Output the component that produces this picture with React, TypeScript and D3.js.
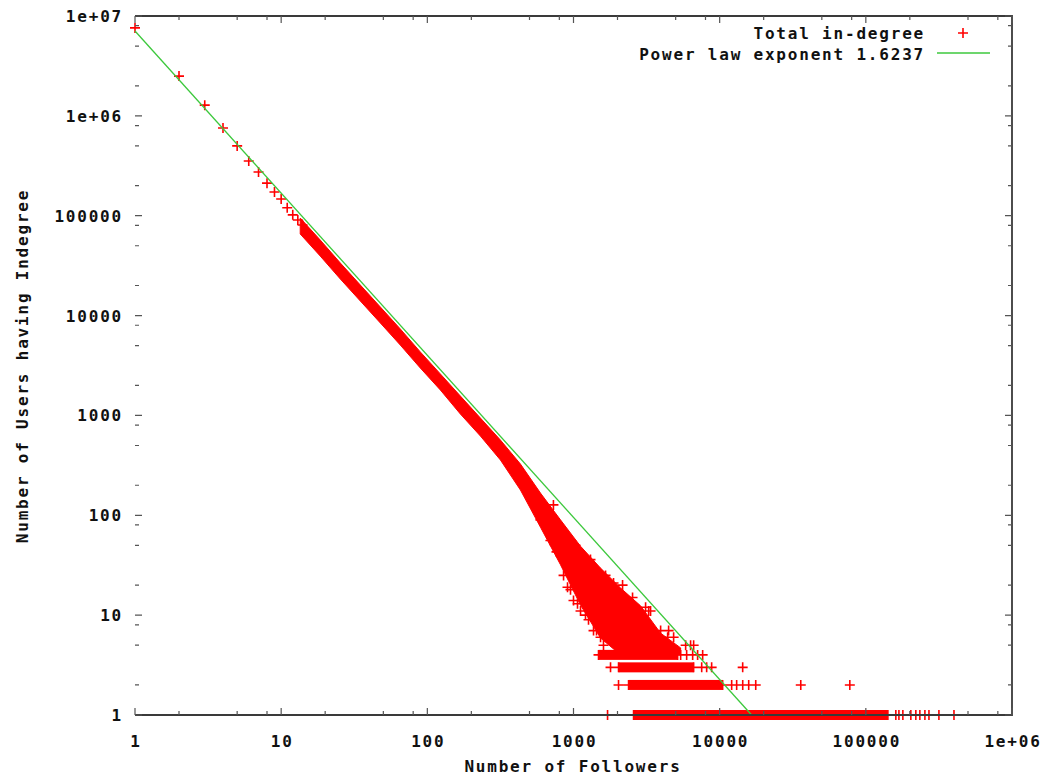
import React from "react";
import * as d3 from "d3";

// ---------- data ----------
// individually visible points (followers k, users with that in-degree)
const singleK = [1, 2, 3, 4, 5, 6, 7, 8, 9, 10, 11, 12, 13, 14, 15];
const singleCount = [7.6e6, 2.5e6, 1.28e6, 7.55e5, 5.0e5, 3.53e5, 2.74e5, 2.12e5, 1.73e5, 1.47e5, 1.2e5, 1.02e5, 9.06e4, 8.07e4, 6.87e4];

// dense region of overlapping markers: envelope (upper / lower counts)
const denseK = [13.5, 18.5, 25.4, 34.8, 47.7, 65.3, 89.5, 122.7, 168.3, 230.7, 316.2, 433.5, 594.2, 814.6, 1117, 1531, 2099, 2877, 3945, 5408];
const denseHigh = [94840, 57150, 33600, 20230, 12190, 7350, 4325, 2606, 1564, 942, 567, 326, 167, 90, 49, 29.6, 18.7, 12.4, 6.6, 4.7];
const denseLow = [65600, 39470, 23230, 13990, 8430, 5070, 2986, 1800, 1033, 622, 358, 179, 76, 32, 12.6, 5.9, 4, 4, 4, 4];

// scattered points at the edge of the dense region
const outlierK = [729, 594, 910, 1000, 1117, 1208, 1371, 1531, 1604, 1879, 2786, 3113, 3265, 3945, 4406, 4842, 5851, 6637,
  695, 765, 855, 954, 1065, 1267, 1437,
  1032, 1307, 1657, 2166, 2535, 3367, 4474, 6324];
const outlierCount = [127, 90, 19, 14, 11, 10, 7, 6, 5, 21, 11, 12, 11, 7, 6, 6, 5, 5,
  56, 43, 25, 18, 13, 9, 7,
  50, 36, 25, 20, 15, 11, 7, 5];

// rows of low counts: solid runs of markers
const bandCount = [1, 2, 3, 4];
const bandStartK = [2576, 2381, 2033, 1483];
const bandEndK = [141500, 10480, 6637, 5156];

// isolated markers on those rows
const rowPointK = [1710, 160400, 168400, 179200, 203200, 219800, 234200, 253600, 270300, 316200, 400900,
  2033, 12080, 13070, 14380, 15800, 17650, 35880, 77700,
  1792, 7534, 8147, 8813, 14370,
  5408, 5945, 6535, 7065, 7650];
const rowPointCount = [1, 1, 1, 1, 1, 1, 1, 1, 1, 1, 1,
  2, 2, 2, 2, 2, 2, 2, 2,
  3, 3, 3, 3, 3,
  4, 4, 4, 4, 4];

// fitted power law
const fitExponent = 1.6237;
const fitConstant = 7.08e6;

const xTickValues = [1, 10, 100, 1000, 10000, 100000, 1000000];
const xTickLabels = ["1", "10", "100", "1000", "10000", "100000", "1e+06"];
const yTickValues = [1, 10, 100, 1000, 10000, 100000, 1000000, 10000000];
const yTickLabels = ["1", "10", "100", "1000", "10000", "100000", "1e+06", "1e+07"];
const minorMultipliers = [2, 5, 8];

const legendLabels = ["Total in-degree", "Power law exponent 1.6237"];
const xTitle = "Number of Followers";
const yTitle = "Number of Users having Indegree";

// ---------- component ----------
export default function App() {
  const W = 1045, H = 777;
  const L = 135, R = 1012, T = 16, B = 715;
  const x = d3.scaleLog().domain([1, 1e6]).range([L, R]);
  const y = d3.scaleLog().domain([1, 1e7]).range([B, T]);

  const red = "#ff0000";
  const green = "#3cc83c";
  const axisCol = "#3a3a3a";
  const font = "'DejaVu Sans Mono', 'Liberation Mono', monospace";

  const plus = (cx: number, cy: number, s = 5) => `M${cx - s},${cy}H${cx + s}M${cx},${cy - s}V${cy + s}`;

  // marker paths
  let markers = "";
  singleK.forEach((k, i) => { markers += plus(x(k), y(singleCount[i])); });
  outlierK.forEach((k, i) => { markers += plus(x(k), y(outlierCount[i])); });
  rowPointK.forEach((k, i) => { markers += plus(x(k), y(rowPointCount[i])); });
  bandCount.forEach((c, i) => {
    markers += plus(x(bandStartK[i]), y(c));
    markers += plus(x(bandEndK[i]), y(c));
  });

  const denseData = denseK.map((k, i) => ({ k, hi: denseHigh[i], lo: denseLow[i] }));
  const area = d3.area<{ k: number; hi: number; lo: number }>()
    .x(d => x(d.k)).y0(d => y(d.lo)).y1(d => y(d.hi));

  const fitEnd = Math.pow(fitConstant, 1 / fitExponent);
  const fitPts: [number, number][] = [[1, fitConstant], [fitEnd, 1]];
  const line = d3.line<[number, number]>().x(d => x(d[0])).y(d => y(d[1]));

  // ticks
  const xMinor: number[] = [];
  for (let d = 0; d < 6; d++) minorMultipliers.forEach(m => xMinor.push(m * Math.pow(10, d)));
  const yMinor: number[] = [];
  for (let d = 0; d < 7; d++) minorMultipliers.forEach(m => yMinor.push(m * Math.pow(10, d)));

  let tickPath = "";
  xTickValues.forEach(v => { const px = x(v); tickPath += `M${px},${B}V${B - 7}M${px},${T}V${T + 7}`; });
  xMinor.forEach(v => { const px = x(v); tickPath += `M${px},${B}V${B - 4}M${px},${T}V${T + 4}`; });
  yTickValues.forEach(v => { const py = y(v); tickPath += `M${L},${py}H${L + 7}M${R},${py}H${R - 7}`; });
  yMinor.forEach(v => { const py = y(v); tickPath += `M${L},${py}H${L + 4}M${R},${py}H${R - 4}`; });

  const textStyle: React.CSSProperties = { fontFamily: font, fontWeight: 700, fontSize: 16, letterSpacing: 1.8 };

  return (
    <svg width={W} height={H} style={{ position: "fixed", left: 0, top: 0, background: "#fff" }}>
      <rect x={0} y={0} width={W} height={H} fill="#fff" />
      {/* data: dense region */}
      <path d={area(denseData) || ""} fill={red} stroke={red} strokeWidth={1} />
      {/* bands */}
      {bandCount.map((c, i) => (
        <rect key={i} x={x(bandStartK[i])} y={y(c) - 5} width={x(bandEndK[i]) - x(bandStartK[i])} height={10} fill={red} />
      ))}
      <path d={markers} stroke={red} strokeWidth={1.6} fill="none" />
      {/* power law fit */}
      <path d={line(fitPts) || ""} stroke={green} strokeWidth={1.3} fill="none" />

      {/* frame (no left border, as in the reference) */}
      <path d={`M${L},${T}H${R}V${B}H${L}`} stroke={axisCol} strokeWidth={1.8} fill="none" />
      <path d={tickPath} stroke="#555" strokeWidth={1.2} fill="none" />

      {/* tick labels */}
      {xTickValues.map((v, i) => (
        <text key={"x" + i} x={x(v) + 1} y={747} textAnchor="middle" fill="#111" style={textStyle}>{xTickLabels[i]}</text>
      ))}
      {yTickValues.map((v, i) => (
        <text key={"y" + i} x={123} y={y(v) + 6} textAnchor="end" fill="#111" style={textStyle}>{yTickLabels[i]}</text>
      ))}

      {/* axis titles */}
      <text x={573} y={772} textAnchor="middle" fill="#111" style={textStyle}>{xTitle}</text>
      <text transform={`translate(28,366) rotate(-90)`} textAnchor="middle" fill="#111" style={textStyle}>{yTitle}</text>

      {/* legend */}
      <text x={925} y={39} textAnchor="end" fill="#111" style={textStyle}>{legendLabels[0]}</text>
      <path d={plus(963, 33)} stroke={red} strokeWidth={1.6} />
      <text x={925} y={60} textAnchor="end" fill="#111" style={textStyle}>{legendLabels[1]}</text>
      <line x1={937} x2={990} y1={53} y2={53} stroke={green} strokeWidth={1.5} />
    </svg>
  );
}
